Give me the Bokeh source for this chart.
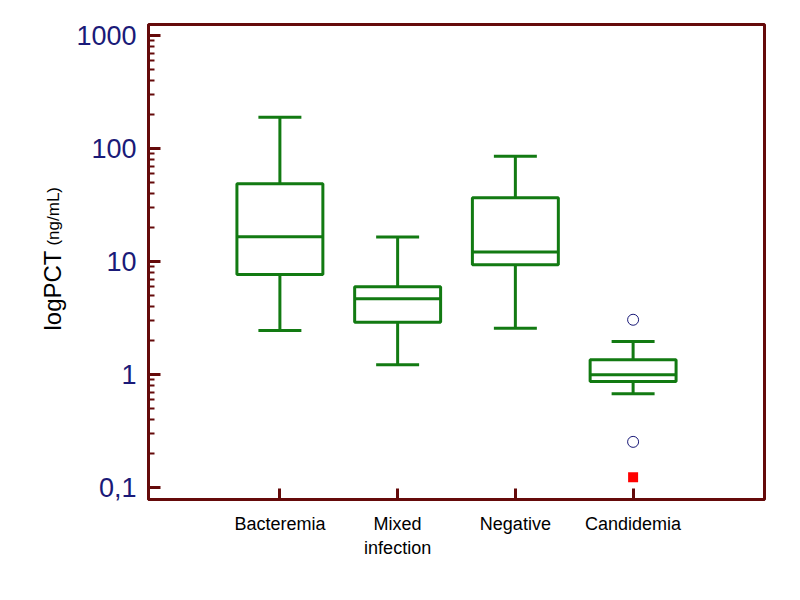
import math
from bokeh.plotting import figure
from bokeh.models import FixedTicker, CustomJSTickFormatter, Label, Range1d
from bokeh.embed import file_html
from bokeh.resources import INLINE

# ---- data ----
categories = ["Bacteremia", "Mixed\ninfection", "Negative", "Candidemia"]
whisker_low = [2.47, 1.23, 2.58, 0.68]
q1 = [7.72, 2.92, 9.40, 0.873]
median = [16.7, 4.70, 12.2, 1.0]
q3 = [49.0, 6.01, 36.9, 1.36]
whisker_high = [190.0, 16.6, 86.0, 1.97]
outside_cat = ["Candidemia", "Candidemia"]
outside_val = [3.07, 0.255]
far_out_cat = ["Candidemia"]
far_out_val = [0.124]
y_ticks = [0.1, 1, 10, 100, 1000]

# ---- styles ----
MAROON = "#650a0a"
GREEN = "#127a12"
NAVY = "#1a1a78"
FONT = "Liberation Sans"
BOX_W = 0.73
CAP_W = 0.365

xs = [i + 1 for i in range(len(categories))]
xpos = {c: i + 1 for i, c in enumerate(categories)}

p = figure(width=800, height=600, y_axis_type="log",
           x_range=Range1d(-0.116, 5.116), y_range=Range1d(0.0788, 1259),
           output_backend="svg", toolbar_location=None,
           min_border_left=148, min_border_right=36,
           min_border_top=24, min_border_bottom=101)
p.background_fill_color = "white"
p.border_fill_color = "white"
p.grid.visible = False
p.outline_line_color = MAROON
p.outline_line_width = 3
p.outline_line_alpha = 1

# boxes
p.vbar(x=xs, width=BOX_W, top=q3, bottom=q1, fill_color="white",
       line_color=GREEN, line_width=3)
# medians
p.segment(x0=[x - BOX_W / 2 for x in xs], x1=[x + BOX_W / 2 for x in xs],
          y0=median, y1=median, line_color=GREEN, line_width=3)
# whiskers
p.segment(x0=xs, x1=xs, y0=q3, y1=whisker_high, line_color=GREEN, line_width=3)
p.segment(x0=xs, x1=xs, y0=q1, y1=whisker_low, line_color=GREEN, line_width=3)
# caps
p.segment(x0=[x - CAP_W / 2 for x in xs], x1=[x + CAP_W / 2 for x in xs],
          y0=whisker_high, y1=whisker_high, line_color=GREEN, line_width=3)
p.segment(x0=[x - CAP_W / 2 for x in xs], x1=[x + CAP_W / 2 for x in xs],
          y0=whisker_low, y1=whisker_low, line_color=GREEN, line_width=3)
# outliers
p.scatter(x=[xpos[c] for c in outside_cat], y=outside_val, marker="circle",
          size=11, fill_color="white", line_color=NAVY, line_width=1)
p.scatter(x=[xpos[c] for c in far_out_cat], y=far_out_val, marker="square",
          size=10, fill_color="#ff0000", line_color=None)

# x axis
xa = p.xaxis[0]
xa.ticker = FixedTicker(ticks=xs)
xa.major_label_overrides = {x: c for x, c in zip(xs, categories)}
xa.axis_line_color = MAROON
xa.axis_line_width = 3
xa.major_tick_line_color = MAROON
xa.major_tick_line_width = 3
xa.major_tick_in = 11
xa.major_tick_out = 0
xa.minor_tick_line_color = None
xa.major_label_text_font = FONT
xa.major_label_text_font_size = "18px"
xa.major_label_text_color = "black"
xa.major_label_standoff = 14

# y axis
minor = [m * t for t in y_ticks[:-1] for m in range(2, 10)]
ya = p.yaxis[0]
ya.ticker = FixedTicker(ticks=y_ticks, minor_ticks=minor)
ya.formatter = CustomJSTickFormatter(code="return tick < 1 ? String(tick).replace('.', ',') : String(tick);")
ya.axis_line_color = MAROON
ya.axis_line_width = 3
ya.major_tick_line_color = MAROON
ya.major_tick_line_width = 3
ya.major_tick_in = 12
ya.major_tick_out = 0
ya.minor_tick_line_color = MAROON
ya.minor_tick_line_width = 2
ya.minor_tick_in = 6
ya.minor_tick_out = 0
ya.major_label_text_font = FONT
ya.major_label_text_font_size = "27px"
ya.major_label_text_color = NAVY
ya.major_label_standoff = 12

# y title (two sizes) - placed in the left side panel so it is not clipped
p.add_layout(Label(x=-0.931, y=2.466, text="logPCT", angle=math.pi / 2,
                   text_align="left", text_baseline="alphabetic",
                   text_font=FONT, text_font_size="24px", text_color="black"), "left")
p.add_layout(Label(x=-0.925, y=13.93, text="(ng/mL)", angle=math.pi / 2,
                   text_align="left", text_baseline="alphabetic",
                   text_font=FONT, text_font_size="17px", text_color="black"), "left")

open("out.html", "w").write(file_html(p, INLINE))
